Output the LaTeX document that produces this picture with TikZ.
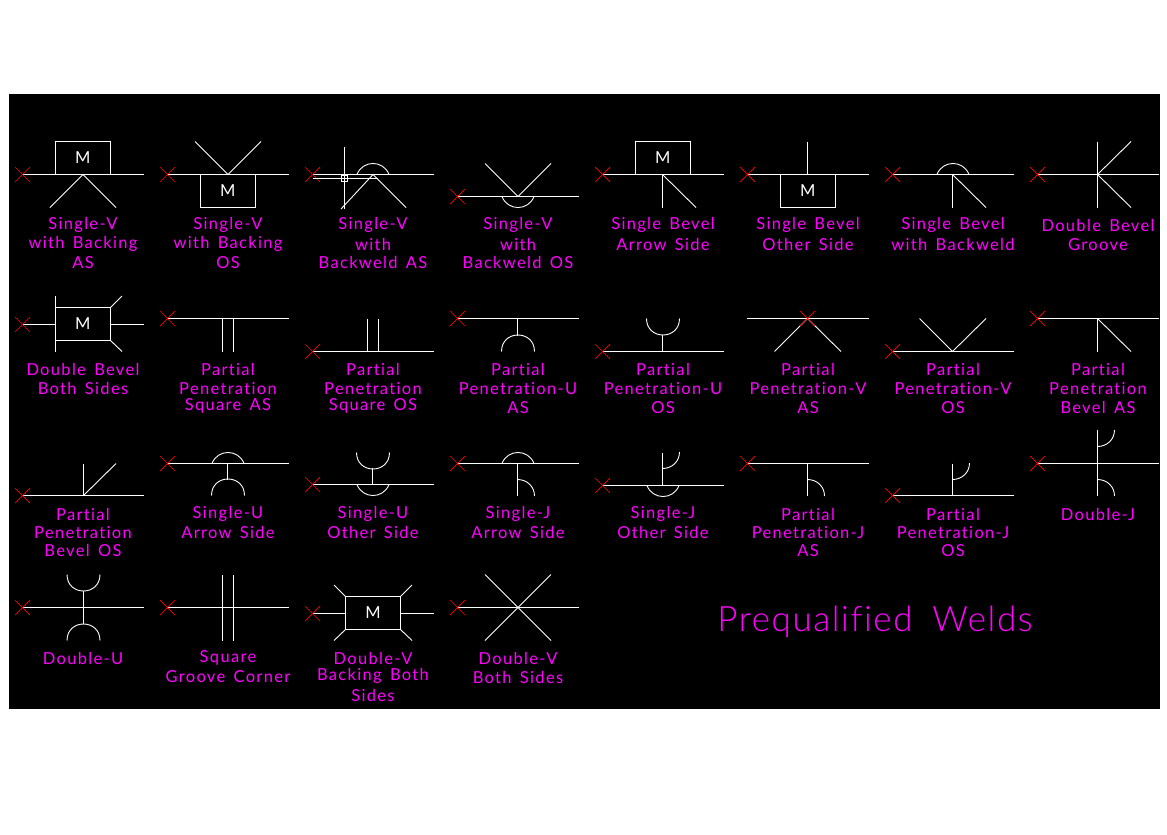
\documentclass[tikz,border=0pt]{standalone}
\usepackage{fontspec}
\setmainfont{Lato}[LetterSpace=8,WordSpace=1.5,Ligatures=NoCommon]
\newfontfamily\titlefont{Lato}[UprightFont=* Light,LetterSpace=4.5,WordSpace=1.8,Ligatures=NoCommon]
\definecolor{mag}{RGB}{255,0,255}
\tikzset{
  wl/.style={draw=white,line width=1pt,line cap=butt},
  wd/.style={draw=white,line width=0.9pt},
  rx/.style={draw=red,line width=0.7pt},
  lbl/.style={text=mag,anchor=base,inner sep=0pt,font=\fontsize{16.5}{18}\selectfont},
  ttl/.style={text=mag,anchor=base,inner sep=0pt,font=\titlefont\fontsize{35}{38}\selectfont},
  mbox/.style={draw=white,line width=1pt,text=white,minimum width=55pt,minimum height=33pt,inner sep=0pt,font=\fontsize{16.5}{18}\selectfont}
}
\newcounter{lc}
\newcommand\lb[3]{\stepcounter{lc}\node[lbl] (t\arabic{lc}) at (#1,#2) {#3};}
\newcommand\rf[2]{\draw[wl] (#1,#2) -- (#1+121.5,#2);\draw[rx] (#1-7.5,#2-7.5) -- (#1+7.5,#2+7.5) (#1-7.5,#2+7.5) -- (#1+7.5,#2-7.5);}
\newcommand\seg[3]{\draw[wd] (#1-16,#2) .. controls (#1-10.4,#2+#3*14.7) and (#1+10.4,#2+#3*14.7) .. (#1+16,#2);}
\newcommand\uu[3]{\draw[wd] (#1-16.5,#2) .. controls (#1-16.5,#2+#3*22) and (#1+16.5,#2+#3*22) .. (#1+16.5,#2);}
\newcommand\jj[3]{\draw[wd] (#1,#2) .. controls (#1+9.5,#2) and (#1+17,#2+#3*7) .. (#1+17,#2+#3*16.5);}
\begin{document}
\begin{tikzpicture}[x=1pt,y=-1pt]
\useasboundingbox (0,0) rectangle (1167,835);
\fill[white] (0,0) rectangle (1167,835);
\fill[black] (9,94) rectangle (1160,709);
% Row 1
\node[mbox] (m1) at (82.8,158) {M};
\rf{22.5}{174.5}
\draw[wd] (50,207.5) -- (83,174.5) -- (116,207.5);
\lb{83}{229}{Single-V}\lb{83}{248.5}{with Backing}\lb{83}{268.5}{AS}

\node[mbox] (m2) at (227.8,191) {M};
\rf{167.5}{174.5}
\draw[wd] (195,141.5) -- (228,174.5) -- (261,141.5);
\lb{228}{229}{Single-V}\lb{228}{248.5}{with Backing}\lb{228}{268.5}{OS}

\rf{312.5}{174.5}
\draw[wl] (312.5,178.5) -- (368,178.5);
\draw[wl] (344.5,147) -- (344.5,209);
\draw[wd] (341.5,175.5) rectangle (347.5,181.5);
\draw[wd] (341,209) -- (373,174.5) -- (406,207.5);
\draw[wd] (368,178.5) -- (378,178.5);
\seg{373}{174.5}{-1}
\lb{373}{229}{Single-V}\lb{373}{250}{with}\lb{373}{268.3}{Backweld AS}

\rf{457.5}{196.5}
\draw[wd] (485,163.5) -- (518,196.5) -- (551,163.5);
\seg{518}{196.5}{1}
\lb{518}{229}{Single-V}\lb{518}{250}{with}\lb{518}{268.3}{Backweld OS}

\node[mbox] (m5) at (662.8,158) {M};
\rf{602.5}{174.5}
\draw[wl] (662.5,174.5) -- (662.5,207.5);
\draw[wd] (662.5,174.5) -- (696,207.5);
\lb{663}{229}{Single Bevel}\lb{663}{250}{Arrow Side}

\node[mbox] (m6) at (807.8,191) {M};
\rf{747.5}{174.5}
\draw[wl] (807.5,141.5) -- (807.5,174.5);
\lb{808}{229}{Single Bevel}\lb{808}{250}{Other Side}

\rf{892.5}{174.5}
\seg{953}{174.5}{-1}
\draw[wl] (952.5,174.5) -- (952.5,207.5);
\draw[wd] (952.5,174.5) -- (986,207.5);
\lb{953}{229}{Single Bevel}\lb{953}{250}{with Backweld}

\rf{1037.5}{174.5}
\draw[wl] (1097.5,141.5) -- (1097.5,207.5);
\draw[wd] (1131,141.5) -- (1097.5,174.5) -- (1131,207.5);
\lb{1098}{231}{Double Bevel}\lb{1098}{250}{Groove}

% Row 2
\node[mbox] (m9) at (82.8,324) {M};
\draw[wl] (22.5,324.5) -- (55,324.5) (110,324.5) -- (144,324.5);
\draw[rx] (15,317) -- (30,332) (15,332) -- (30,317);
\draw[wl] (55.5,296) -- (55.5,351.5);
\draw[wd] (110.5,307.5) -- (122,296) (110.5,340.5) -- (122,351.5);
\lb{83}{375}{Double Bevel}\lb{83}{394}{Both Sides}

\rf{167.5}{318.5}
\draw[wl] (222.5,318.5) -- (222.5,351.5) (233.5,318.5) -- (233.5,351.5);
\lb{228}{375}{Partial}\lb{228}{394}{Penetration}\lb{228}{410}{Square AS}

\rf{312.5}{351.5}
\draw[wl] (367.5,318.5) -- (367.5,351.5) (378.5,318.5) -- (378.5,351.5);
\lb{373}{375}{Partial}\lb{373}{394}{Penetration}\lb{373}{410}{Square OS}

\rf{457.5}{318.5}
\draw[wl] (517.5,318.5) -- (517.5,336);
\uu{518}{351.5}{-1}
\lb{518}{375}{Partial}\lb{518}{394}{Penetration-U}\lb{518}{413}{AS}

\rf{602.5}{351.5}
\draw[wl] (662.5,351.5) -- (662.5,335);
\uu{663}{318.5}{1}
\lb{663}{375}{Partial}\lb{663}{394}{Penetration-U}\lb{663}{413}{OS}

\draw[wl] (747,318.5) -- (869,318.5);
\draw[wd] (774.5,351.5) -- (807.5,318.5) -- (841,351.5);
\draw[rx] (800,311) -- (815,326) (800,326) -- (815,311);
\lb{808}{375}{Partial}\lb{808}{394}{Penetration-V}\lb{808}{413}{AS}

\rf{892.5}{351.5}
\draw[wd] (919.5,318.5) -- (952.5,351.5) -- (986,318.5);
\lb{953}{375}{Partial}\lb{953}{394}{Penetration-V}\lb{953}{413}{OS}

\rf{1037.5}{318.5}
\draw[wl] (1097.5,318.5) -- (1097.5,351.5);
\draw[wd] (1097.5,318.5) -- (1131,351.5);
\lb{1098}{375}{Partial}\lb{1098}{394}{Penetration}\lb{1098}{413}{Bevel AS}

% Row 3
\rf{22.5}{495.5}
\draw[wl] (83.5,495.5) -- (83.5,463.5);
\draw[wd] (83.5,495.5) -- (116,463.5);
\lb{83}{520}{Partial}\lb{83}{538.7}{Penetration}\lb{83}{556.7}{Bevel OS}

\rf{167.5}{463.5}
\seg{228}{463.5}{-1}
\draw[wl] (227.5,463.5) -- (227.5,479.5);
\uu{228}{495.5}{-1}
\lb{228}{518.3}{Single-U}\lb{228}{538.3}{Arrow Side}

\rf{312.5}{484.5}
\seg{373}{484.5}{1}
\draw[wl] (372.5,484.5) -- (372.5,468);
\uu{373}{452.5}{1}
\lb{373}{518.3}{Single-U}\lb{373}{538.3}{Other Side}

\rf{457.5}{463.5}
\seg{518}{463.5}{-1}
\draw[wl] (517.5,463.5) -- (517.5,495.5);
\jj{517.5}{479.5}{1}
\lb{518}{518.3}{Single-J}\lb{518}{538.3}{Arrow Side}

\rf{602.5}{485.5}
\seg{663}{485.5}{1}
\draw[wl] (662.5,452.5) -- (662.5,485.5);
\jj{662.5}{468.5}{-1}
\lb{663}{518.3}{Single-J}\lb{663}{538.3}{Other Side}

\rf{747.5}{463.5}
\draw[wl] (807.5,463.5) -- (807.5,495.5);
\jj{807.5}{479.5}{1}
\lb{808}{520}{Partial}\lb{808}{538.7}{Penetration-J}\lb{808}{556.7}{AS}

\rf{892.5}{495.5}
\draw[wl] (952.5,463.5) -- (952.5,495.5);
\jj{952.5}{479.5}{-1}
\lb{953}{520}{Partial}\lb{953}{538.7}{Penetration-J}\lb{953}{556.7}{OS}

\rf{1037.5}{463.5}
\draw[wl] (1097.5,430) -- (1097.5,495.5);
\jj{1097.5}{446.5}{-1}
\jj{1097.5}{479.5}{1}
\lb{1098}{520}{Double-J}

% Row 4
\rf{22.5}{607.5}
\draw[wl] (83.5,590.5) -- (83.5,623.5);
\uu{83.5}{574.5}{1}
\uu{83.5}{640.5}{-1}
\lb{83}{664}{Double-U}

\rf{167.5}{607.5}
\draw[wl] (222.5,574.5) -- (222.5,640.5) (233.5,574.5) -- (233.5,640.5);
\lb{228}{662.3}{Square}\lb{228}{682.3}{Groove Corner}

\node[mbox] (m27) at (373,613) {M};
\draw[wl] (312.5,613.5) -- (345,613.5) (400.5,613.5) -- (434,613.5);
\draw[rx] (305,606) -- (320,621) (305,621) -- (320,606);
\draw[wd] (345.5,596.5) -- (334,585) (400.5,596.5) -- (412,585) (345.5,629.5) -- (334,640.5) (400.5,629.5) -- (412,640.5);
\lb{373}{664}{Double-V}\lb{373}{680.7}{Backing Both}\lb{373}{701.7}{Sides}

\rf{457.5}{607.5}
\draw[wd] (485,574.5) -- (551,640.5) (485,640.5) -- (551,574.5);
\lb{518}{664.5}{Double-V}\lb{518}{683.5}{Both Sides}

\node[ttl] (title) at (875,631) {Prequalified Welds};
\end{tikzpicture}
\end{document}
